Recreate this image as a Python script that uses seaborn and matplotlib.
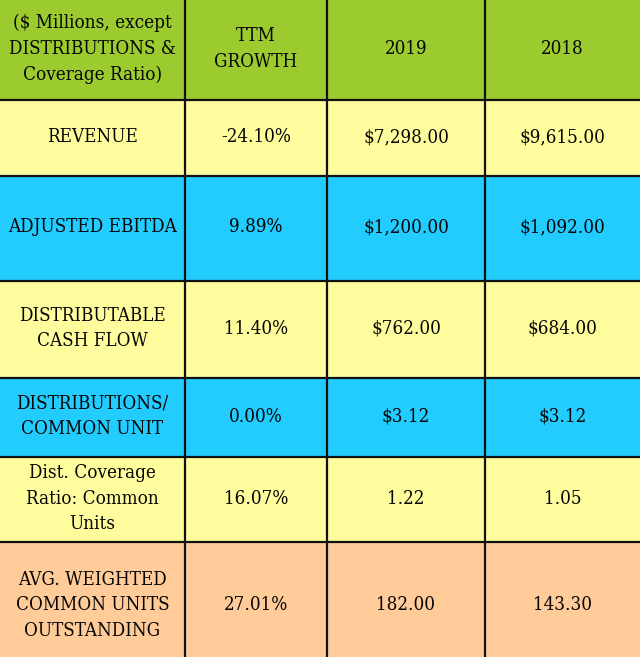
import matplotlib
matplotlib.use("Agg")
import matplotlib.pyplot as plt
import seaborn as sns
import numpy as np

sns.set_theme(style="white")
plt.rcParams['font.family'] = ['DejaVu Serif']

header = ["($ Millions, except\nDISTRIBUTIONS &\nCoverage Ratio)", "TTM\nGROWTH", "2019", "2018"]
row_labels = ["REVENUE", "ADJUSTED EBITDA", "DISTRIBUTABLE\nCASH FLOW",
              "DISTRIBUTIONS/\nCOMMON UNIT", "Dist. Coverage\nRatio: Common\nUnits",
              "AVG. WEIGHTED\nCOMMON UNITS\nOUTSTANDING"]
ttm_growth = ["-24.10%", "9.89%", "11.40%", "0.00%", "16.07%", "27.01%"]
val_2019 = ["$7,298.00", "$1,200.00", "$762.00", "$3.12", "1.22", "182.00"]
val_2018 = ["$9,615.00", "$1,092.00", "$684.00", "$3.12", "1.05", "143.30"]

# layout (pixels); the last row continues past the visible bottom edge (cropped)
W, H = 640, 657
col_edges = [0, 185, 327, 485, 640]
row_edges = [0, 100, 176, 281, 378, 457, 542, 671]
row_colors = ["#9BCB2F", "#FFFC9E", "#22CCFF", "#FFFC9E", "#22CCFF", "#FFFC9E", "#FFCB99"]

fig = plt.figure(figsize=(W / 100, H / 100), dpi=100)
ax = fig.add_axes([0, 0, 1, 1])
ax.set_xlim(0, W)
ax.set_ylim(H, 0)
ax.axis("off")

cells = [header] + [[row_labels[i], ttm_growth[i], val_2019[i], val_2018[i]] for i in range(len(row_labels))]

for r in range(len(cells)):
    y0, y1 = row_edges[r], row_edges[r + 1]
    ax.add_patch(plt.Rectangle((0, y0), W, y1 - y0, facecolor=row_colors[r], edgecolor="none", zorder=1))
    for c in range(4):
        x0, x1 = col_edges[c], col_edges[c + 1]
        ax.text((x0 + x1) / 2, (y0 + y1) / 2 - 1, cells[r][c], ha="center", va="center",
                fontsize=13.5, fontstretch="condensed", color="#050505",
                linespacing=1.55, zorder=3)

for y in row_edges[1:-1]:
    ax.plot([0, W], [y, y], color="#111111", lw=1.6, zorder=2)
for x in col_edges[1:-1]:
    ax.plot([x, x], [0, H], color="#111111", lw=1.6, zorder=2)

fig.savefig("out.png", dpi=100)
